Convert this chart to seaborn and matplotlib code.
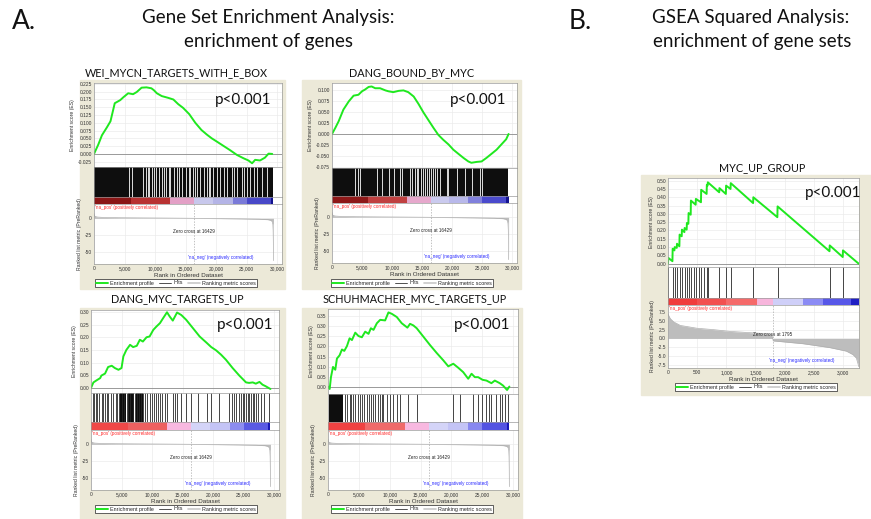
import matplotlib
matplotlib.use("Agg")
import matplotlib.pyplot as plt
import seaborn as sns
from matplotlib.lines import Line2D
from matplotlib.patches import Rectangle
from matplotlib.ticker import FuncFormatter

sns.set_theme(style="white")
plt.rcParams['font.family'] = ['Lato', 'DejaVu Sans']

W, H = 871, 519
BEIGE = "#ECE9D8"
GREEN = "#1FE81F"
SMALL = "Liberation Sans"

# ---------------- data ----------------
# running enrichment score, (rank, ES)
wei_rank = [0, 700, 1300, 2100, 2700, 3400, 4300, 4800, 5600, 6400, 7000, 7800, 8600, 9400, 9800,
            10300, 11100, 12200, 13000, 13800, 14600, 15600, 16600, 17600, 18500, 19300, 20100,
            21200, 22300, 23400, 24500, 25300, 25900, 26400, 27200, 28000, 28600, 29200]
wei_es = [0.0, 0.030, 0.060, 0.085, 0.105, 0.163, 0.173, 0.182, 0.195, 0.192, 0.199, 0.213, 0.214,
          0.211, 0.205, 0.195, 0.186, 0.180, 0.175, 0.160, 0.148, 0.128, 0.100, 0.077, 0.062, 0.050,
          0.040, 0.026, 0.012, -0.003, -0.014, -0.021, -0.030, -0.019, -0.021, -0.012, 0.001, 0.000]

dbm_rank = [0, 550, 1100, 1900, 2800, 3600, 4400, 5000, 5500, 6100, 6600, 7200, 8000, 8900, 9400,
            10200, 11100, 11900, 12700, 13600, 14400, 15200, 16000, 16900, 17700, 18500, 19400,
            20200, 21000, 21900, 22700, 23200, 24100, 24900, 25700, 26600, 27400, 28200, 29000, 29400]
dbm_es = [0.0, 0.014, 0.029, 0.056, 0.075, 0.088, 0.090, 0.098, 0.102, 0.108, 0.109, 0.105, 0.105,
          0.100, 0.098, 0.096, 0.099, 0.100, 0.096, 0.086, 0.069, 0.050, 0.033, 0.014, -0.002,
          -0.013, -0.024, -0.036, -0.045, -0.055, -0.063, -0.066, -0.064, -0.063, -0.055, -0.045,
          -0.036, -0.024, -0.012, 0.0]

dmt_rank = [0, 400, 900, 1500, 1700, 2300, 2800, 3400, 3900, 4500, 5000, 5300, 5800, 6400, 6900,
            7500, 8000, 8500, 9100, 9600, 10200, 10700, 11300, 11800, 12450, 12900, 13400, 14100,
            14800, 15600, 16700, 17800, 18300, 18900, 19700, 20500, 21300, 22100, 23200, 24300,
            25400, 25900, 26500, 27000, 27600, 28100, 28600, 29100, 29400]
dmt_es = [0.0, 0.022, 0.030, 0.039, 0.049, 0.057, 0.083, 0.088, 0.079, 0.072, 0.079, 0.125, 0.151,
          0.171, 0.162, 0.167, 0.191, 0.184, 0.201, 0.204, 0.230, 0.243, 0.257, 0.276, 0.300, 0.283,
          0.267, 0.299, 0.289, 0.270, 0.237, 0.204, 0.193, 0.180, 0.162, 0.149, 0.132, 0.112, 0.079,
          0.049, 0.022, 0.020, 0.022, 0.017, 0.024, 0.013, 0.007, 0.000, -0.004]

sch_rank = [0, 270, 480, 810, 1180, 1450, 1880, 2260, 2640, 3070, 3500, 3880, 4420, 4950, 5490,
            6030, 6570, 6950, 7380, 7920, 8460, 9260, 9800, 10340, 11150, 11950, 12870, 13300,
            13840, 14380, 15460, 16540, 17610, 18690, 19500, 20310, 21110, 21920, 22730, 23270,
            23810, 24340, 25040, 25690, 26490, 27040, 27840, 28380, 29030, 29400]
sch_es = [0.0, -0.012, 0.047, 0.098, 0.084, 0.140, 0.156, 0.185, 0.178, 0.202, 0.241, 0.232, 0.269,
          0.252, 0.246, 0.274, 0.263, 0.291, 0.283, 0.316, 0.333, 0.330, 0.370, 0.363, 0.347, 0.316,
          0.294, 0.313, 0.305, 0.291, 0.249, 0.207, 0.168, 0.131, 0.101, 0.114, 0.094, 0.072, 0.039,
          0.064, 0.047, 0.047, 0.034, 0.030, 0.017, 0.030, 0.017, 0.005, -0.017, 0.0]

myc_rank = [0, 5, 76, 80, 110, 114, 150, 154, 195, 199, 235, 239, 281, 285, 320, 324, 349, 353,
            389, 393, 474, 478, 565, 569, 662, 666, 679, 683, 878, 882, 992, 996, 1072, 1076,
            1459, 1463, 1875, 1879, 2769, 2773, 2996, 3000, 3270]
myc_es = [0.0, 0.035, 0.015, 0.09, 0.08, 0.10, 0.095, 0.12, 0.105, 0.175, 0.165, 0.205, 0.19, 0.215,
          0.205, 0.245, 0.24, 0.305, 0.295, 0.38, 0.355, 0.39, 0.37, 0.445, 0.42, 0.475, 0.47, 0.49,
          0.43, 0.455, 0.42, 0.47, 0.45, 0.485, 0.365, 0.40, 0.28, 0.345, 0.075, 0.11, 0.04, 0.08, 0.0]

# hits: dense stretches (blocks), single hit lines, and white gaps inside dense stretches
wei_blocks = [(0, 29250)]
wei_hits = []
wei_gaps = [5800, 6190, 8100, 8490, 8810, 9090, 9470, 9850, 10180, 10570, 11110, 11390, 11820,
            12210, 12480, 13140, 13580, 13960, 14400, 15110, 15490, 15770, 16200, 16590, 16860,
            17410, 17960, 18500, 18780, 19050, 19490, 20150, 20690, 21240, 21790, 22610, 22990,
            23430, 24250, 24640, 25070, 25620, 26170, 26720, 27540, 28360]

dbm_blocks = [(0, 29300)]
dbm_hits = []
dbm_gaps = [3870, 4260, 4590, 7470, 8300, 9410, 10350, 11350, 11620, 13010, 13390, 13840, 14110,
            14390, 14780, 15110, 15500, 15890, 16220, 16490, 16880, 17160, 17440, 17990, 19100,
            19370, 20760, 22140, 23250, 24630, 24910]

dmt_blocks = [(4700, 5700), (6000, 7000), (7400, 8500)]
dmt_hits = [270, 490, 760, 1030, 1360, 1740, 2010, 2280, 2550, 2830, 3210, 3640, 4080, 4290, 4620,
            5000, 5380, 5820, 6090, 6470, 6900, 7170, 7550, 7880, 8260, 8530, 8910, 9240, 9620,
            10050, 10270, 10600, 10980, 11250, 11680, 12070, 12450, 13420, 13700, 14080, 14670,
            15490, 16410, 17500, 18970, 19670, 21030, 22560, 23100, 23480, 23750, 24190, 24570,
            24840, 25110, 25380, 25650, 25920, 26200, 26470, 26740, 27010, 27280, 27830, 28370, 29180]
dmt_gaps = []

sch_blocks = [(100, 2500)]
sch_hits = [2800, 3070, 3500, 3720, 4040, 4420, 4790, 5220, 5490, 5870, 6300, 6570, 6950, 7270,
            7650, 8030, 8350, 8730, 8990, 9640, 10070, 10610, 11150, 11690, 13030, 14380, 20310,
            21380, 23540, 24340, 25040, 25580, 26120, 26500, 27310, 27850, 28280, 28650, 29190]
sch_gaps = []

myc_hits = [5, 80, 114, 154, 199, 239, 285, 324, 353, 393, 438, 478, 524, 569, 620, 666, 683,
            882, 996, 1076, 1463, 1879, 2773, 3000]

# ranked list metric (shared by the four gene panels, and the gene-set panel)
big_metric_rank = [0, 60, 200, 600, 1500, 4000, 8000, 12000, 16000, 16429, 20000, 24000, 27000,
                   28500, 29000, 29200, 29300, 29350, 29380, 29400]
big_metric = [7, 4, 2.6, 1.8, 1.3, 0.9, 0.6, 0.35, 0.05, 0.0, -0.4, -0.8, -1.3, -2.0, -3.0, -5.0,
              -9.0, -18, -35, -62]
big_zero_cross = 16429

myc_metric_rank = [0, 15, 40, 97, 210, 495, 780, 1064, 1349, 1634, 1776, 1795, 1805, 2000, 2317,
                   2772, 3057, 3171, 3230, 3256, 3270]
myc_metric = [7.0, 6.4, 5.6, 4.7, 3.7, 2.9, 2.5, 2.0, 1.7, 1.4, 1.0, 0.0, -0.7, -1.0, -1.5, -2.6,
              -3.6, -4.6, -5.6, -7.1, -8.0]
myc_zero_cross = 1795

# colour bar of the ranked list: segment edges and colours
big_cb_edges = [0, 6000, 12500, 16400, 19500, 22700, 25000, 29000, 29400]
wei_cb_colors = ['#8A1616', '#B83232', '#E3A0C6', '#C8C8EC', '#B4B4E6', '#7A7AD8', '#4848C8', '#12128C']
dbm_cb_colors = ['#8E1818', '#C04040', '#E6A8CC', '#CACAEE', '#B8B8EA', '#8080DC', '#4A4ACC', '#14148E']
dmt_cb_colors = ['#F04848', '#EE6060', '#F8B8E0', '#D4D4F8', '#C4C4F6', '#8C8CF0', '#5A5AE4', '#1818B8']
sch_cb_colors = ['#F04242', '#F06A6A', '#F8B8E0', '#D4D4F8', '#C4C4F6', '#8888F0', '#5454E2', '#1818B8']
myc_cb_edges = [0, 500, 1000, 1520, 1793, 2317, 2658, 3142, 3270]
myc_cb_colors = ['#F03C3C', '#F25050', '#F56A6A', '#F7B5DC', '#CFCFF8', '#8B8BF4', '#5757E8', '#1F1FC4']

big_xticks = [0, 5000, 10000, 15000, 20000, 25000, 30000]
myc_xticks = [0, 500, 1000, 1500, 2000, 2500, 3000]
wei_esticks = [-0.025, 0.0, 0.025, 0.05, 0.075, 0.1, 0.125, 0.15, 0.175, 0.2, 0.225]
dbm_esticks = [-0.075, -0.05, -0.025, 0.0, 0.025, 0.05, 0.075, 0.1]
dmt_esticks = [0.0, 0.05, 0.1, 0.15, 0.2, 0.25, 0.3]
sch_esticks = [0.0, 0.05, 0.1, 0.15, 0.2, 0.25, 0.3, 0.35]
myc_esticks = [0.0, 0.05, 0.1, 0.15, 0.2, 0.25, 0.3, 0.35, 0.4, 0.45, 0.5]
big_mticks = [0, -25, -50]
myc_mticks = [7.5, 5.0, 2.5, 0.0, -2.5, -5.0, -7.5]


def px_ax(fig, x0, y0, x1, y1):
    return fig.add_axes([x0 / W, 1 - y1 / H, (x1 - x0) / W, (y1 - y0) / H])


def gsea_panel(fig, lay, title, es_rank, es_vals, es_ticks, es_fmt, blocks, hits, gaps,
               cb_edges, cb_colors, m_rank, m_vals, m_ticks, m_fmt, xticks, zero_cross):
    bx0, by0, bx1, by1 = lay['box']
    fig.patches.append(Rectangle((bx0 / W, 1 - by1 / H), (bx1 - bx0) / W, (by1 - by0) / H,
                                 transform=fig.transFigure, color=BEIGE, zorder=-5))
    x0, x1 = lay['x']
    ya, yb, yc, yd, ye = lay['y']
    ax_es = px_ax(fig, x0, ya, x1, yb)
    ax_hit = px_ax(fig, x0, yb, x1, yc)
    ax_cb = px_ax(fig, x0, yc, x1, yd)
    ax_rk = px_ax(fig, x0, yd, x1, ye)
    for ax in (ax_es, ax_hit, ax_cb, ax_rk):
        ax.set_facecolor('white')
        ax.set_xlim(0, lay['xlim'])
        for s in ax.spines.values():
            s.set_color('#9A9A9A')
            s.set_linewidth(0.5)
        ax.tick_params(length=0, labelsize=3.5, pad=1.5, colors='#333333',
                       labelfontfamily=SMALL)
        ax.set_xticks(xticks)
        ax.set_xticklabels([])
    for ax in (ax_hit, ax_cb):
        ax.set_yticks([])
        ax.set_ylim(0, 1)

    # enrichment profile
    ax_es.grid(True, color='#EBEBEB', lw=0.5)
    ax_es.axhline(0, color='#8C8C8C', lw=0.6)
    sns.lineplot(x=es_rank, y=es_vals, ax=ax_es, color=GREEN, lw=1.4, sort=False, estimator=None)
    ax_es.set_ylim(*lay['es_lim'])
    ax_es.set_yticks(es_ticks)
    ax_es.yaxis.set_major_formatter(FuncFormatter(lambda v, p: es_fmt.format(v)))
    ax_es.set_ylabel("Enrichment score (ES)", fontsize=3.7, labelpad=2, family=SMALL, color='#333333')

    # hits
    for a, b in blocks:
        ax_hit.axvspan(a, b, color='#0E0E0E', lw=0)
    if hits:
        ax_hit.vlines(hits, 0, 1, color='#262626', lw=0.6)
    if gaps:
        ax_hit.vlines(gaps, 0, 1, color='white', lw=0.6)

    # ranked list colour bar
    for i, c in enumerate(cb_colors):
        ax_cb.axvspan(cb_edges[i], cb_edges[i + 1], color=c, lw=0)

    # ranked list metric
    ax_rk.grid(True, color='#EBEBEB', lw=0.5)
    ax_rk.fill_between(m_rank, 0, m_vals, color='#BDBDBD', lw=0)
    sns.lineplot(x=m_rank, y=m_vals, ax=ax_rk, color='#AFAFAF', lw=0.5, sort=False, estimator=None)
    ax_rk.axvline(zero_cross, color='#A8A8A8', lw=0.5, ls=(0, (2, 2)))
    ax_rk.set_ylim(*lay['m_lim'])
    ax_rk.set_yticks(m_ticks)
    ax_rk.yaxis.set_major_formatter(FuncFormatter(lambda v, p: m_fmt.format(v)))
    ax_rk.set_xticklabels([f"{v:,}" for v in xticks])
    ax_rk.set_xlabel("Rank in Ordered Dataset", fontsize=4.5, labelpad=1.5, family=SMALL, color='#333333')
    ax_rk.set_ylabel("Ranked list metric (PreRanked)", fontsize=3.7, labelpad=2, family=SMALL,
                     color='#333333')
    ax_rk.text(0.004, 0.985, "'na_pos' (positively correlated)", transform=ax_rk.transAxes,
               color='#FF2A2A', fontsize=3.3, va='top', family=SMALL)
    zx, zy = lay['zc_xy']
    ax_rk.text(zx, zy, f"Zero cross at {zero_cross}", ha='center', va='center', fontsize=3.3,
               color='#222222', family=SMALL)
    nx, ny = lay['neg_xy']
    ax_rk.text(nx, ny, "'na_neg' (negatively correlated)", ha='center', va='center', fontsize=3.3,
               color='#2A2AFF', family=SMALL)

    # legend
    handles = [Line2D([], [], color=GREEN, lw=1.4), Line2D([], [], color='#333333', lw=0.6),
               Line2D([], [], color='#C8C8C8', lw=1.2)]
    lx, ly = lay['legend_xy']
    leg = fig.legend(handles, ["Enrichment profile", "Hits", "Ranking metric scores"], loc='center',
                     bbox_to_anchor=(lx / W, 1 - ly / H), ncol=3, frameon=True, fancybox=False,
                     edgecolor='#222222', framealpha=1, handlelength=2.2, columnspacing=0.9,
                     handletextpad=0.4, borderpad=0.3, prop={'family': SMALL, 'size': 3.9})
    leg.get_frame().set_linewidth(0.5)

    tx, ty = lay['title_xy']
    fig.text(tx / W, 1 - ty / H, title, ha='center', va='center', fontsize=7.8, color='#111111')
    px, py = lay['p_xy']
    fig.text(px / W, 1 - py / H, "p<0.001", ha='center', va='center', fontsize=11, color='#111111',
             zorder=5)


fig = plt.figure(figsize=(W / 100, H / 100), dpi=100)
fig.patch.set_facecolor('white')

lay_wei = dict(box=(80, 80, 285, 289), x=(94, 282), y=(83, 167, 197, 204, 264), xlim=30800,
               es_lim=(-0.042, 0.228), m_lim=(-67, 21), title_xy=(176, 73), p_xy=(243, 100),
               legend_xy=(176, 283), zc_xy=(16400, -19), neg_xy=(20700, -57))
lay_dbm = dict(box=(302, 80, 521, 289), x=(332, 517), y=(83, 168, 196, 203, 263), xlim=30800,
               es_lim=(-0.078, 0.117), m_lim=(-67, 21), title_xy=(412, 73), p_xy=(478, 100),
               legend_xy=(412, 283), zc_xy=(16400, -19), neg_xy=(20700, -57))
lay_dmt = dict(box=(80, 308, 285, 519), x=(91, 279), y=(310, 393, 422, 430, 490), xlim=30800,
               es_lim=(-0.02, 0.309), m_lim=(-67, 21), title_xy=(177, 299), p_xy=(245, 325),
               legend_xy=(176, 509), zc_xy=(16400, -19), neg_xy=(20700, -57))
lay_sch = dict(box=(302, 308, 522, 519), x=(328, 518), y=(309, 394, 422, 430, 490), xlim=30800,
               es_lim=(-0.037, 0.387), m_lim=(-67, 21), title_xy=(415, 299), p_xy=(482, 325),
               legend_xy=(412, 509), zc_xy=(16400, -19), neg_xy=(20700, -57))
lay_myc = dict(box=(641, 175, 871, 395), x=(668, 859), y=(178, 267, 298, 305, 368), xlim=3275,
               es_lim=(-0.02, 0.516), m_lim=(-8.4, 9.5), title_xy=(762, 168), p_xy=(833, 193),
               legend_xy=(756, 387), zc_xy=(1790, 1.0), neg_xy=(2300, -6.3))

gsea_panel(fig, lay_wei, "WEI_MYCN_TARGETS_WITH_E_BOX", wei_rank, wei_es, wei_esticks, "{:.3f}",
           wei_blocks, wei_hits, wei_gaps, big_cb_edges, wei_cb_colors, big_metric_rank, big_metric,
           big_mticks, "{:.0f}", big_xticks, big_zero_cross)
gsea_panel(fig, lay_dbm, "DANG_BOUND_BY_MYC", dbm_rank, dbm_es, dbm_esticks, "{:.3f}",
           dbm_blocks, dbm_hits, dbm_gaps, big_cb_edges, dbm_cb_colors, big_metric_rank, big_metric,
           big_mticks, "{:.0f}", big_xticks, big_zero_cross)
gsea_panel(fig, lay_dmt, "DANG_MYC_TARGETS_UP", dmt_rank, dmt_es, dmt_esticks, "{:.2f}",
           dmt_blocks, dmt_hits, dmt_gaps, big_cb_edges, dmt_cb_colors, big_metric_rank, big_metric,
           big_mticks, "{:.0f}", big_xticks, big_zero_cross)
gsea_panel(fig, lay_sch, "SCHUHMACHER_MYC_TARGETS_UP", sch_rank, sch_es, sch_esticks, "{:.2f}",
           sch_blocks, sch_hits, sch_gaps, big_cb_edges, sch_cb_colors, big_metric_rank, big_metric,
           big_mticks, "{:.0f}", big_xticks, big_zero_cross)
gsea_panel(fig, lay_myc, "MYC_UP_GROUP", myc_rank, myc_es, myc_esticks, "{:.2f}",
           [], myc_hits, [], myc_cb_edges, myc_cb_colors, myc_metric_rank, myc_metric,
           myc_mticks, "{:.1f}", myc_xticks, myc_zero_cross)

# headers
fig.text(24 / W, 1 - 22 / H, "A.", ha='center', va='center', fontsize=19, color='#111111')
fig.text(268 / W, 1 - 18 / H, "Gene Set Enrichment Analysis:", ha='center', va='center', fontsize=13.5,
         color='#111111')
fig.text(268 / W, 1 - 42 / H, "enrichment of genes", ha='center', va='center', fontsize=13.5,
         color='#111111')
fig.text(580 / W, 1 - 22 / H, "B.", ha='center', va='center', fontsize=19, color='#111111')
fig.text(751 / W, 1 - 18 / H, "GSEA Squared Analysis:", ha='center', va='center', fontsize=13.5,
         color='#111111')
fig.text(752 / W, 1 - 42 / H, "enrichment of gene sets", ha='center', va='center', fontsize=13.5,
         color='#111111')

fig.savefig("out.png", dpi=100)
